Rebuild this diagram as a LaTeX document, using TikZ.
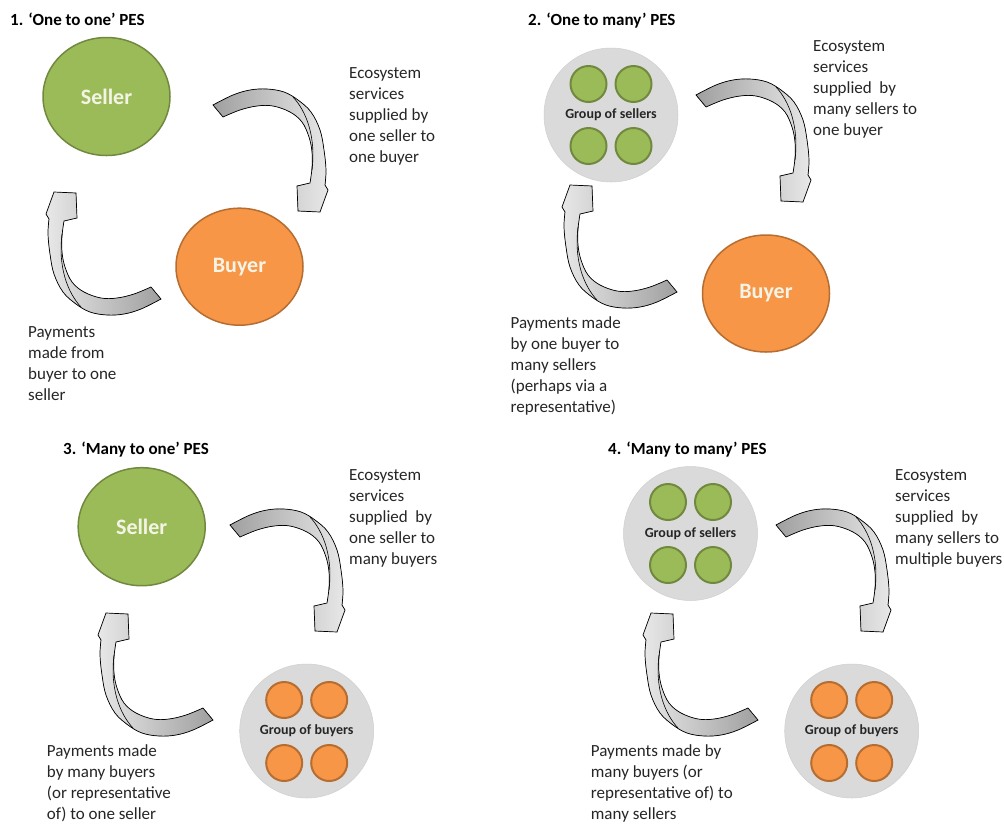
\documentclass[tikz,border=0pt]{standalone}
\usepackage{fontspec}
\setmainfont{Carlito}
\usetikzlibrary{shapes.geometric}
\definecolor{sgreen}{HTML}{9BBB59}
\definecolor{sgreenD}{HTML}{71893F}
\definecolor{sorange}{HTML}{F79646}
\definecolor{sorangeD}{HTML}{B66D31}
\definecolor{grp}{HTML}{DADADA}
\definecolor{lbl}{HTML}{F4F4E6}
\definecolor{txt}{HTML}{262626}
\begin{document}
\begin{tikzpicture}[x=1pt,y=-1pt,
  bigseller/.style={ellipse, fill=sgreen, draw=sgreenD, line width=1.5pt, minimum width=127pt, minimum height=118pt, inner sep=0pt, text=lbl, font=\fontsize{22}{26}\selectfont\bfseries},
  bigbuyer/.style={ellipse, fill=sorange, draw=sorangeD, line width=1.5pt, minimum width=127pt, minimum height=117pt, inner sep=0pt, text=lbl, font=\fontsize{22}{26}\selectfont\bfseries},
  groupc/.style={circle, fill=grp, draw=grp!95!black, line width=0.5pt, minimum size=134pt, inner sep=0pt, font=\fontsize{14}{16}\selectfont\bfseries, text=txt},
  smallg/.style={circle, fill=sgreen, draw=sgreenD, line width=2pt, minimum size=36pt, inner sep=0pt},
  smallo/.style={circle, fill=sorange, draw=sorangeD, line width=2pt, minimum size=36pt, inner sep=0pt},
  titletext/.style={anchor=base west, inner sep=0pt, font=\fontsize{17}{21}\selectfont\bfseries, text=black},
  desc/.style={anchor=base west, inner sep=0pt, align=left, font=\fontsize{17}{20.8}\selectfont, text=txt},
  arrowbody/.style={draw=black, line width=0.7pt},
  fwdshade/.style={left color=gray!75, right color=gray!18},
  revshade/.style={left color=gray!18, right color=gray!75},
  cycarrow/.pic={
    \filldraw[arrowbody, #1] (213,105) -- plot[smooth, tension=0.6] coordinates {(213,105) (233,95) (250,90) (267,89) (284,92) (298,100) (311,112) (320,130) (324,150) (326,170) (325,185)}
      -- (328,190) -- (320,212) -- (298,211) -- (297,186) -- (310,183)
      -- plot[smooth, tension=0.6] coordinates {(310,183) (312,168) (312,152) (309,137) (302,122) (290,112) (273,106) (257,106) (240,110) (223,117)} -- cycle;
    \draw[line width=0.6pt] (293,97) .. controls (307,112) and (316,138) .. (312,170);
  }
]
\useasboundingbox (0,0) rectangle (1004,823);
\fill[white] (0,0) rectangle (1004,823);

% ---------- Panel 1
\node[titletext] (t1) at (10,25) {1. ‘One to one’ PES};
\node[bigseller] (s1) at (106.5,96.5) {Seller};
\node[bigbuyer] (b1) at (239.5,266.7) {Buyer};
\node[desc] (e1) at (349,162) {Ecosystem\\services\\supplied by\\one seller to\\one buyer};
\node[desc] (p1) at (28,400) {Payments\\made from\\buyer to one\\seller};
\pic (a1) {cycarrow=fwdshade};
\pic[rotate around={180:(187,202)}] (c1) {cycarrow=revshade};

% ---------- Panel 2
\node[titletext] (t2) at (528,25) {2. ‘One to many’ PES};
\node[groupc] (g2) at (611,115) {Group of sellers};
\node[smallg] (g2a) at (588.5,84) {};
\node[smallg] (g2b) at (633.5,84) {};
\node[smallg] (g2c) at (588.5,146) {};
\node[smallg] (g2d) at (633.5,146) {};
\node[bigbuyer] (b2) at (766,293.5) {Buyer};
\node[desc] (e2) at (813,135) {Ecosystem\\services\\supplied\ \ by\\many sellers to\\one buyer};
\node[desc] (p2) at (510.5,412) {Payments made\\by one buyer to\\many sellers\\(perhaps via a\\representative)};
\pic[shift={(483,-10)}] (a2) {cycarrow=fwdshade};
\pic[shift={(516,-7)}, rotate around={180:(187,202)}] (c2) {cycarrow=revshade};

% ---------- Panel 3
\node[titletext] (t3) at (63,454) {3. ‘Many to one’ PES};
\node[bigseller] (s3) at (141.7,526.7) {Seller};
\node[groupc] (g3) at (306.7,731) {Group of buyers};
\node[smallo] (g3a) at (284.2,700) {};
\node[smallo] (g3b) at (329.2,700) {};
\node[smallo] (g3c) at (284.2,763) {};
\node[smallo] (g3d) at (329.2,763) {};
\node[desc] (e3) at (349,564) {Ecosystem\\services\\supplied\ \ by\\one seller to\\many buyers};
\node[desc] (p3) at (46.7,819) {Payments made\\by many buyers\\(or representative\\of) to one seller};
\pic[shift={(17,420)}] (a3) {cycarrow=fwdshade};
\pic[shift={(52,421)}, rotate around={180:(187,202)}] (c3) {cycarrow=revshade};

% ---------- Panel 4
\node[titletext] (t4) at (608,454) {4. ‘Many to many’ PES};
\node[groupc] (g4) at (690.5,533.5) {Group of sellers};
\node[smallg] (g4a) at (668,502) {};
\node[smallg] (g4b) at (713,502) {};
\node[smallg] (g4c) at (668,565) {};
\node[smallg] (g4d) at (713,565) {};
\node[groupc] (h4) at (851.7,731) {Group of buyers};
\node[smallo] (h4a) at (829.2,700) {};
\node[smallo] (h4b) at (874.2,700) {};
\node[smallo] (h4c) at (829.2,763) {};
\node[smallo] (h4d) at (874.2,763) {};
\node[desc] (e4) at (895,564) {Ecosystem\\services\\supplied\ \ by\\many sellers to\\multiple buyers};
\node[desc] (p4) at (590.7,819) {Payments made by\\many buyers (or\\representative of) to\\many sellers};
\pic[shift={(563,420)}] (a4) {cycarrow=fwdshade};
\pic[shift={(597,421)}, rotate around={180:(187,202)}] (c4) {cycarrow=revshade};
\end{tikzpicture}
\end{document}
